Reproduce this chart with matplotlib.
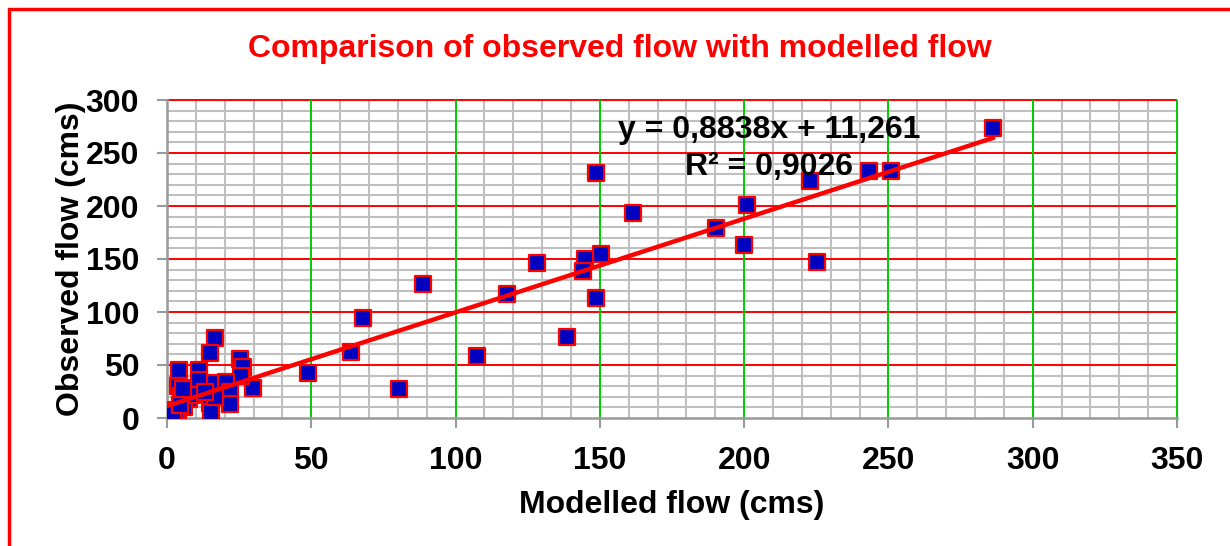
import matplotlib.pyplot as plt
from matplotlib.patches import Rectangle
from matplotlib.ticker import MultipleLocator

# Modelled flow (x) vs observed flow (y), cms
modelled = [286.2, 250.9, 243.2, 222.8, 225.2, 201.0, 200.0, 190.2, 161.4, 150.4,
            148.6, 148.6, 144.8, 144.1, 138.6, 128.2, 117.8, 107.4, 88.7, 80.4,
            67.9, 63.8, 48.9, 29.8,
            16.75, 14.9, 4.2, 11.2, 25.3, 26.4, 25.5, 20.4, 21.8, 21.8,
            14.9, 14.9, 15.2, 16.6, 3.9, 9.1, 11.2, 4.7, 5.6, 3.9,
            1.0, 0.5, 7.5, 6.0, 3.0, 8.5, 2.0, 4.5, 13.0, 5.5]
observed = [273.6, 233.0, 233.0, 223.6, 147.0, 201.0, 163.0, 179.0, 193.0, 154.7,
            231.0, 113.0, 150.0, 138.7, 76.4, 146.0, 117.0, 58.5, 126.4, 27.4,
            94.3, 62.3, 42.5, 28.3,
            75.7, 61.0, 45.3, 45.3, 55.3, 47.8, 40.0, 34.3, 24.8, 12.9,
            32.7, 14.4, 6.0, 19.5, 30.5, 28.0, 35.8, 20.8, 15.4, 1.2,
            4.4, 3.0, 18.0, 10.0, 8.0, 22.0, 6.0, 12.0, 25.0, 27.0]

slope = 0.8838
intercept = 11.261
r2 = 0.9026

plt.rcParams['font.family'] = ['Liberation Sans', 'DejaVu Sans']
fig = plt.figure(figsize=(12.3, 5.46), dpi=100)
ax = fig.add_axes([167 / 1230, 1 - 418 / 546, 1010 / 1230, 318 / 546])

ax.set_xlim(0, 350)
ax.set_ylim(0, 300)
ax.xaxis.set_major_locator(MultipleLocator(50))
ax.yaxis.set_major_locator(MultipleLocator(50))
ax.xaxis.set_minor_locator(MultipleLocator(10))
ax.yaxis.set_minor_locator(MultipleLocator(10))

# minor grid through the axis, major grid drawn above it so the
# gray lines don't cut through the coloured ones
ax.grid(which='minor', color='#bfbfbf', linewidth=1.5)
ax.set_axisbelow(True)
xmin, xmax = ax.get_xlim()
ymin, ymax = ax.get_ylim()
xt = [t for t in ax.get_xticks() if xmin < t <= xmax]
yt = [t for t in ax.get_yticks() if ymin < t <= ymax]
ax.hlines(yt, xmin, xmax, color='#ff0000', linewidth=1.4, zorder=1.5, clip_on=False)
ax.vlines(xt, ymin, ymax, color='#00cc00', linewidth=1.4, zorder=1.6, clip_on=False)

for s in ['top', 'right']:
    ax.spines[s].set_visible(False)
for s in ['left', 'bottom']:
    ax.spines[s].set_color('#999999')
    ax.spines[s].set_linewidth(1.8)
    ax.spines[s].set_zorder(1.7)

ax.tick_params(which='major', length=7, width=1.5, color='#999999',
               labelsize=23, pad=13)
ax.tick_params(which='minor', length=0)
for lbl in ax.get_xticklabels() + ax.get_yticklabels():
    lbl.set_fontweight('bold')

ax.scatter(modelled, observed, marker='s', s=130, facecolor='#0000c0',
           edgecolor='#ff0000', linewidth=1.6, zorder=3)

x0, x1 = min(modelled), max(modelled)
ax.plot([x0, x1], [slope * x0 + intercept, slope * x1 + intercept],
        color='#ff0000', linewidth=3.2, zorder=4)

ax.text(208.6, 271.7, f'y = {slope:.4f}x + {intercept:.3f}'.replace('.', ','),
        ha='center', va='center', fontsize=23, fontweight='bold', zorder=5)
ax.text(208.6, 236.8, f'R² = {r2:.4f}'.replace('.', ','),
        ha='center', va='center', fontsize=23, fontweight='bold', zorder=5)

ax.set_xlabel('Modelled flow (cms)', fontsize=23, fontweight='bold', labelpad=10)
ax.set_ylabel('Observed flow (cms)', fontsize=23, fontweight='bold', labelpad=0)

fig.text(620 / 1230, 1 - 49 / 546,
         'Comparison of observed flow with modelled flow',
         ha='center', va='center', color='#ff0000', fontsize=23, fontweight='bold')

fig.patches.append(Rectangle((9 / 1230, -0.1), 1.2, 1.1 - 9 / 546,
                             transform=fig.transFigure, fill=False,
                             edgecolor='#ff0000', linewidth=2.5))

fig.savefig('out.png', dpi=100)
